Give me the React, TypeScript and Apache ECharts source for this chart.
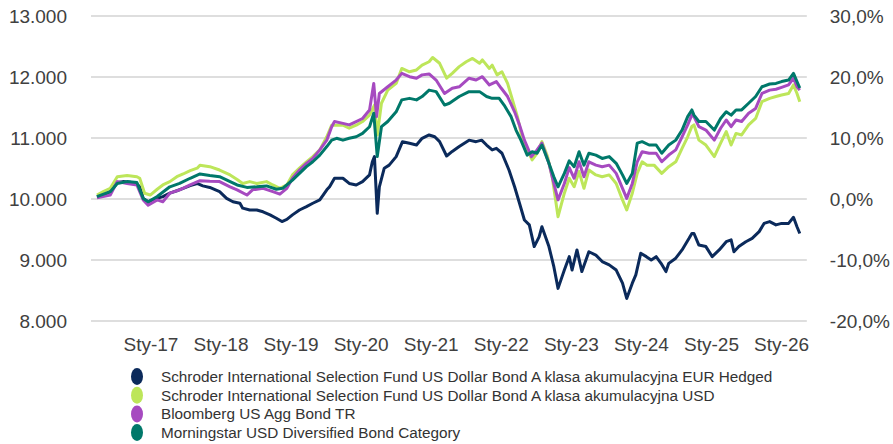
import React, { useEffect, useRef } from "react";
import * as echarts from "echarts";

const seriesNames = [
  "Schroder International Selection Fund US Dollar Bond A klasa akumulacyjna EUR Hedged",
  "Schroder International Selection Fund US Dollar Bond A klasa akumulacyjna USD",
  "Bloomberg US Agg Bond TR",
  "Morningstar USD Diversified Bond Category",
];
const seriesColors = ["#0b2a5b", "#bde65a", "#a64ac0", "#00786a"];

const xTickYears = [2017, 2018, 2019, 2020, 2021, 2022, 2023, 2024, 2025, 2026];
const leftTicks = { min: 8000, max: 13000, step: 1000 };
const rightTicks = { min: -20, max: 30, step: 10 };

// [decimal year, value]
const eurHedged = [
  [2016.23, 10040], [2016.32, 10065], [2016.42, 10120], [2016.52, 10270], [2016.6, 10285],
  [2016.7, 10275], [2016.8, 10245], [2016.84, 10200], [2016.89, 10010], [2016.96, 9955],
  [2017.09, 10010], [2017.17, 10040], [2017.27, 10095], [2017.37, 10135], [2017.46, 10175],
  [2017.56, 10220], [2017.66, 10255], [2017.74, 10215], [2017.84, 10190], [2017.98, 10120],
  [2018.08, 10010], [2018.17, 9955], [2018.27, 9930], [2018.31, 9850], [2018.41, 9820],
  [2018.51, 9820], [2018.6, 9790], [2018.7, 9740], [2018.79, 9685], [2018.87, 9630],
  [2018.94, 9665], [2019.02, 9740], [2019.12, 9820], [2019.22, 9875], [2019.31, 9930],
  [2019.41, 9985], [2019.51, 10150], [2019.55, 10200], [2019.62, 10340], [2019.74, 10340],
  [2019.83, 10255], [2019.93, 10230], [2020.02, 10285], [2020.12, 10395], [2020.16, 10610],
  [2020.19, 10695], [2020.23, 9765], [2020.26, 10200], [2020.33, 10505], [2020.4, 10555],
  [2020.5, 10695], [2020.59, 10940], [2020.69, 10915], [2020.79, 10885], [2020.87, 10995],
  [2020.97, 11050], [2021.05, 11020], [2021.12, 10940], [2021.22, 10705], [2021.3, 10780],
  [2021.4, 10860], [2021.54, 10965], [2021.64, 10940], [2021.72, 10965], [2021.79, 10885],
  [2021.87, 10805], [2021.93, 10830], [2022.01, 10750], [2022.11, 10475], [2022.19, 10200],
  [2022.26, 9930], [2022.33, 9655], [2022.4, 9575], [2022.47, 9220], [2022.54, 9380],
  [2022.58, 9545], [2022.68, 9220], [2022.75, 8890], [2022.81, 8535], [2022.9, 8835],
  [2022.97, 9055], [2023.01, 8835], [2023.08, 9165], [2023.15, 8810], [2023.25, 9135],
  [2023.35, 9080], [2023.44, 8975], [2023.54, 8920], [2023.64, 8835], [2023.73, 8620],
  [2023.79, 8370], [2023.87, 8620], [2023.92, 8755], [2023.99, 9110], [2024.07, 9055],
  [2024.14, 9000], [2024.21, 9055], [2024.28, 8945], [2024.35, 8810], [2024.39, 8945],
  [2024.49, 9030], [2024.58, 9165], [2024.68, 9355], [2024.72, 9435], [2024.75, 9435],
  [2024.82, 9245], [2024.92, 9220], [2025.01, 9055], [2025.11, 9165], [2025.21, 9300],
  [2025.28, 9330], [2025.32, 9135], [2025.39, 9220], [2025.49, 9300], [2025.58, 9355],
  [2025.68, 9465], [2025.75, 9600], [2025.83, 9630], [2025.92, 9575], [2026.0, 9600],
  [2026.1, 9600], [2026.17, 9700], [2026.22, 9545], [2026.26, 9435],
];

const usdClass = [
  [2016.23, 10065], [2016.32, 10120], [2016.42, 10175], [2016.52, 10365], [2016.66, 10385],
  [2016.8, 10365], [2016.84, 10340], [2016.91, 10095], [2016.99, 10065], [2017.09, 10160],
  [2017.17, 10230], [2017.27, 10285], [2017.37, 10365], [2017.46, 10410], [2017.56, 10465],
  [2017.66, 10505], [2017.7, 10555], [2017.84, 10530], [2017.98, 10475], [2018.13, 10395],
  [2018.23, 10320], [2018.31, 10255], [2018.41, 10285], [2018.51, 10255], [2018.65, 10285],
  [2018.74, 10230], [2018.84, 10175], [2018.94, 10230], [2019.02, 10395], [2019.12, 10505],
  [2019.22, 10610], [2019.31, 10695], [2019.41, 10805], [2019.51, 11020], [2019.58, 11210],
  [2019.65, 11210], [2019.74, 11210], [2019.83, 11160], [2019.93, 11210], [2020.02, 11270],
  [2020.12, 11375], [2020.19, 11540], [2020.23, 11050], [2020.29, 11570], [2020.38, 11785],
  [2020.5, 11895], [2020.58, 12140], [2020.69, 12085], [2020.79, 12115], [2020.87, 12195],
  [2020.97, 12250], [2021.02, 12320], [2021.12, 12225], [2021.22, 11980], [2021.3, 12060],
  [2021.4, 12170], [2021.5, 12250], [2021.59, 12305], [2021.69, 12225], [2021.73, 12280],
  [2021.83, 12140], [2021.87, 12195], [2021.94, 12035], [2022.01, 12085], [2022.09, 11895],
  [2022.16, 11625], [2022.23, 11350], [2022.3, 10995], [2022.37, 10805], [2022.44, 10640],
  [2022.51, 10750], [2022.58, 10940], [2022.66, 10695], [2022.73, 10340], [2022.81, 9710],
  [2022.9, 10095], [2022.97, 10340], [2023.04, 10200], [2023.11, 10450], [2023.18, 10175],
  [2023.25, 10475], [2023.35, 10395], [2023.44, 10365], [2023.54, 10395], [2023.64, 10255],
  [2023.73, 9985], [2023.79, 9820], [2023.87, 10095], [2023.94, 10420], [2024.01, 10610],
  [2024.08, 10555], [2024.18, 10555], [2024.29, 10420], [2024.39, 10530], [2024.49, 10610],
  [2024.58, 10830], [2024.66, 11020], [2024.72, 11190], [2024.75, 11215], [2024.82, 10965],
  [2024.92, 10885], [2025.04, 10695], [2025.13, 10915], [2025.21, 11105], [2025.28, 10885],
  [2025.35, 11075], [2025.43, 11050], [2025.53, 11215], [2025.63, 11320], [2025.72, 11595],
  [2025.83, 11650], [2025.92, 11680], [2026.0, 11705], [2026.1, 11730], [2026.17, 11870],
  [2026.22, 11730], [2026.26, 11595],
];

const bloombergAgg = [
  [2016.23, 10020], [2016.42, 10065], [2016.52, 10285], [2016.66, 10255], [2016.8, 10230],
  [2016.89, 9985], [2016.96, 9900], [2017.09, 9985], [2017.17, 9955], [2017.27, 10095],
  [2017.41, 10150], [2017.56, 10230], [2017.7, 10300], [2017.84, 10290], [2017.98, 10285],
  [2018.13, 10200], [2018.23, 10150], [2018.37, 10065], [2018.45, 10150], [2018.6, 10175],
  [2018.74, 10120], [2018.84, 10080], [2018.94, 10175], [2019.02, 10340], [2019.12, 10475],
  [2019.22, 10585], [2019.31, 10665], [2019.41, 10805], [2019.51, 10965], [2019.58, 11185],
  [2019.62, 11270], [2019.74, 11240], [2019.83, 11215], [2019.93, 11270], [2020.02, 11320],
  [2020.12, 11460], [2020.18, 11895], [2020.22, 11350], [2020.26, 11730], [2020.38, 11840],
  [2020.5, 11950], [2020.58, 12060], [2020.69, 12005], [2020.79, 11980], [2020.87, 12035],
  [2020.97, 12050], [2021.07, 11950], [2021.19, 11730], [2021.3, 11815], [2021.4, 11840],
  [2021.54, 11980], [2021.64, 11950], [2021.73, 12005], [2021.83, 11870], [2021.93, 11925],
  [2022.0, 11815], [2022.09, 11680], [2022.19, 11430], [2022.26, 11215], [2022.33, 10965],
  [2022.43, 10695], [2022.51, 10805], [2022.58, 10915], [2022.68, 10585], [2022.75, 10255],
  [2022.81, 9985], [2022.9, 10255], [2022.97, 10515], [2023.04, 10340], [2023.11, 10610],
  [2023.18, 10365], [2023.25, 10610], [2023.35, 10555], [2023.44, 10530], [2023.54, 10555],
  [2023.64, 10420], [2023.73, 10175], [2023.79, 10010], [2023.87, 10255], [2023.94, 10610],
  [2024.01, 10775], [2024.11, 10750], [2024.21, 10750], [2024.29, 10610], [2024.39, 10720],
  [2024.49, 10805], [2024.58, 11020], [2024.66, 11215], [2024.72, 11380], [2024.75, 11350],
  [2024.82, 11185], [2024.92, 11130], [2025.04, 10965], [2025.13, 11160], [2025.21, 11295],
  [2025.28, 11185], [2025.35, 11295], [2025.43, 11270], [2025.53, 11405], [2025.63, 11485],
  [2025.72, 11730], [2025.83, 11785], [2025.92, 11800], [2026.0, 11830], [2026.1, 11870],
  [2026.17, 11980], [2026.22, 11840], [2026.26, 11785],
];

const morningstarCat = [
  [2016.23, 10040], [2016.42, 10120], [2016.52, 10255], [2016.66, 10285], [2016.8, 10270],
  [2016.89, 10010], [2016.96, 9955], [2017.09, 10040], [2017.27, 10200], [2017.41, 10255],
  [2017.56, 10340], [2017.7, 10410], [2017.84, 10385], [2017.98, 10365], [2018.13, 10285],
  [2018.23, 10230], [2018.37, 10190], [2018.51, 10200], [2018.65, 10215], [2018.79, 10160],
  [2018.88, 10175], [2019.02, 10310], [2019.12, 10420], [2019.22, 10530], [2019.31, 10610],
  [2019.41, 10720], [2019.51, 10860], [2019.58, 10965], [2019.65, 10995], [2019.74, 10965],
  [2019.83, 10995], [2019.93, 11020], [2020.02, 11075], [2020.12, 11185], [2020.18, 11405],
  [2020.23, 10695], [2020.29, 11185], [2020.38, 11270], [2020.5, 11430], [2020.58, 11625],
  [2020.69, 11650], [2020.79, 11625], [2020.87, 11680], [2020.97, 11785], [2021.07, 11760],
  [2021.19, 11540], [2021.26, 11570], [2021.4, 11680], [2021.54, 11760], [2021.69, 11760],
  [2021.79, 11680], [2021.87, 11650], [2021.97, 11650], [2022.04, 11540], [2022.14, 11350],
  [2022.21, 11130], [2022.28, 10965], [2022.37, 10720], [2022.44, 10775], [2022.51, 10750],
  [2022.58, 10885], [2022.68, 10585], [2022.75, 10365], [2022.81, 10200], [2022.9, 10420],
  [2022.97, 10625], [2023.04, 10530], [2023.11, 10775], [2023.18, 10555], [2023.25, 10750],
  [2023.35, 10720], [2023.44, 10665], [2023.54, 10695], [2023.64, 10585], [2023.73, 10395],
  [2023.79, 10255], [2023.87, 10420], [2023.94, 10915], [2024.01, 10940], [2024.11, 10885],
  [2024.21, 10885], [2024.29, 10750], [2024.39, 10885], [2024.49, 10965], [2024.58, 11130],
  [2024.66, 11350], [2024.72, 11460], [2024.75, 11375], [2024.82, 11270], [2024.92, 11270],
  [2025.04, 11130], [2025.13, 11320], [2025.21, 11430], [2025.28, 11375], [2025.35, 11460],
  [2025.43, 11460], [2025.53, 11570], [2025.63, 11680], [2025.72, 11840], [2025.83, 11885],
  [2025.92, 11895], [2026.0, 11925], [2026.1, 11950], [2026.17, 12060], [2026.22, 11925],
  [2026.26, 11820],
];

const allSeriesData = [eurHedged, usdClass, bloombergAgg, morningstarCat];

const FONT = "'Liberation Sans', Arial, sans-serif";
const ELLIPSE = "path://M6,0A6,8.5,0,1,1,6,17A6,8.5,0,1,1,6,0Z";

export default function App() {
  const ref = useRef<HTMLDivElement>(null);
  useEffect(() => {
    if (!ref.current) return;
    const chart = echarts.init(ref.current, null, { renderer: "svg" });
    chart.setOption({
      animation: false,
      backgroundColor: "#ffffff",
      textStyle: { fontFamily: FONT },
      grid: { left: 91, right: 85, top: 16, bottom: 123, containLabel: false },
      legend: {
        orient: "vertical",
        left: 131,
        top: 368,
        padding: 0,
        itemWidth: 38,
        itemHeight: 17,
        itemGap: 1.7,
        icon: ELLIPSE,
        symbolKeepAspect: true,
        selectedMode: false,
        textStyle: { fontFamily: FONT, fontSize: 15.3, color: "#333333" },
        data: seriesNames,
      },
      xAxis: {
        type: "value",
        min: 2016.145,
        max: 2026.36,
        axisLine: { show: false },
        axisTick: { show: false },
        splitLine: { show: false },
        axisLabel: {
          customValues: xTickYears,
          margin: 14,
          fontSize: 19,
          color: "#404040",
          fontFamily: FONT,
          formatter: (v: number) => "Sty-" + String(Math.round(v)).slice(2),
        },
      },
      yAxis: [
        {
          type: "value",
          min: leftTicks.min,
          max: leftTicks.max,
          interval: leftTicks.step,
          axisLine: { show: false },
          axisTick: { show: false },
          splitLine: { show: true, lineStyle: { color: "#dedede", width: 2 } },
          axisLabel: {
            margin: 24,
            fontSize: 19,
            color: "#404040",
            fontFamily: FONT,
            formatter: (v: number) =>
              `${Math.floor(v / 1000)}.${String(v % 1000).padStart(3, "0")}`,
          },
        },
        {
          type: "value",
          position: "right",
          min: rightTicks.min,
          max: rightTicks.max,
          interval: rightTicks.step,
          axisLine: { show: false },
          axisTick: { show: false },
          splitLine: { show: false },
          axisLabel: {
            margin: 23,
            fontSize: 19,
            color: "#404040",
            fontFamily: FONT,
            formatter: (v: number) => `${v.toFixed(1).replace(".", ",")}%`,
          },
        },
      ],
      series: allSeriesData.map((d, i) => ({
        name: seriesNames[i],
        type: "line",
        yAxisIndex: 0,
        data: d,
        symbol: "none",
        showSymbol: false,
        color: seriesColors[i],
        lineStyle: { color: seriesColors[i], width: 3, join: "round" },
      })),
    });
    return () => chart.dispose();
  }, []);
  return (
    <div
      ref={ref}
      style={{ position: "absolute", left: 0, top: 0, width: 893, height: 444 }}
    />
  );
}
